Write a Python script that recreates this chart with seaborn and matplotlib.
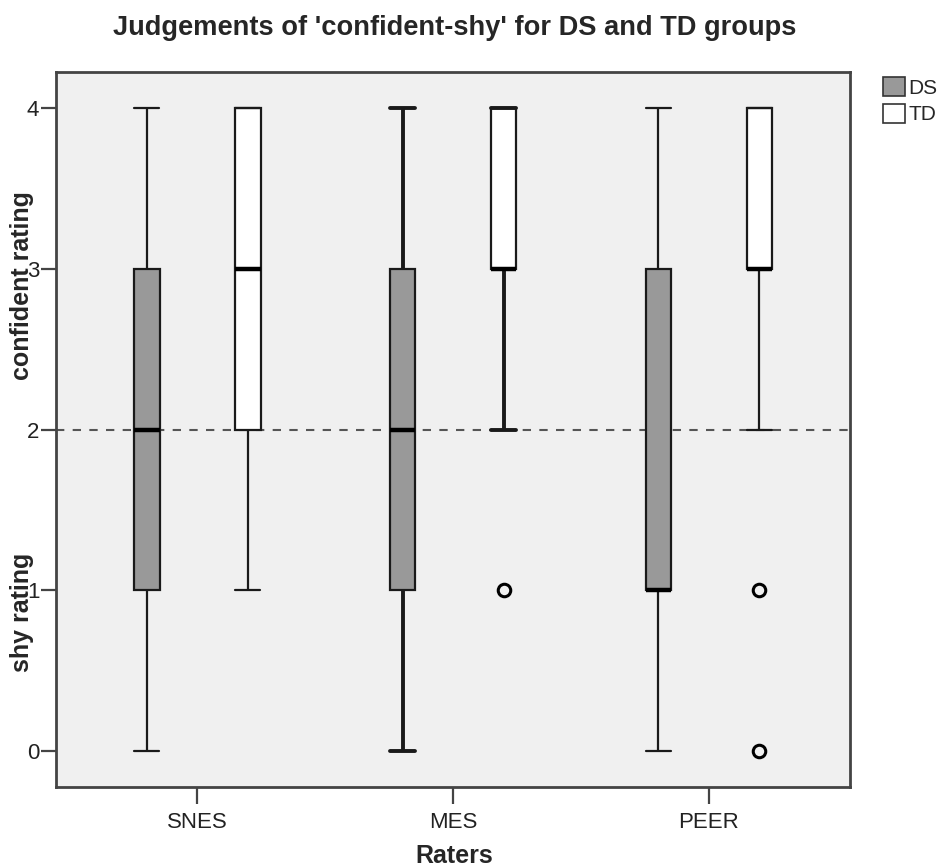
import numpy as np
import pandas as pd
import matplotlib
matplotlib.use("Agg")
import matplotlib.pyplot as plt
import seaborn as sns

# Ratings on the 0 (shy) .. 4 (confident) scale, per rater and group
raters = ["SNES", "MES", "PEER"]
groups = ["DS", "TD"]

snes_ds = [0, 1, 1, 2, 2, 3, 3, 4]
snes_td = [1, 2, 2, 3, 3, 4, 4, 4]
mes_ds = [0, 1, 1, 2, 2, 3, 3, 4]
mes_td = [1, 2, 3, 3, 3, 3, 3, 4, 4, 4, 4]
peer_ds = [0, 1, 1, 1, 1, 3, 3, 4]
peer_td = [0, 1, 2, 3, 3, 3, 3, 3, 3, 4, 4, 4, 4]

y_ticks = [0, 1, 2, 3, 4]
midpoint = 2

samples = {
    ("SNES", "DS"): snes_ds, ("SNES", "TD"): snes_td,
    ("MES", "DS"): mes_ds, ("MES", "TD"): mes_td,
    ("PEER", "DS"): peer_ds, ("PEER", "TD"): peer_td,
}
rows = [(r, g, v) for (r, g), vals in samples.items() for v in vals]
df = pd.DataFrame(rows, columns=["rater", "group", "rating"])

sns.set_style("white")
plt.rcParams["font.family"] = ["Liberation Sans", "DejaVu Sans"]

fig = plt.figure(figsize=(9.4, 8.68), dpi=100)
ax = fig.add_axes([0.0596, 0.0933, 0.8447, 0.8237])
ax.set_facecolor("#f0f0f0")

sns.boxplot(
    data=df, x="rater", y="rating", hue="group",
    order=raters, hue_order=groups,
    palette={"DS": "#999999", "TD": "white"},
    width=0.79, gap=0.75, whis=1.5,
    linecolor="#1a1a1a", linewidth=1.6,
    capwidths=0.098,
    medianprops=dict(color="black", linewidth=3.2),
    flierprops=dict(marker="o", markerfacecolor="none",
                    markeredgecolor="black", markeredgewidth=2.2,
                    markersize=9),
    ax=ax,
)

# heavier whiskers and caps for the MES group
for ln in ax.lines:
    xd = np.asarray(ln.get_xdata(), dtype=float)
    if xd.size and abs(xd.mean() - 1) < 0.4 and ln.get_marker() in ("None", None, ""):
        if ln.get_linewidth() < 3:
            ln.set_linewidth(2.8)

ax.axhline(midpoint, color="#555555", linestyle=(0, (4, 4)), linewidth=1.5, zorder=1.5)

ax.set_xlim(-0.553, 2.553)
ax.set_ylim(-0.224, 4.224)
ax.set_yticks(y_ticks)
ax.set_yticklabels([str(t) for t in y_ticks])

for s in ax.spines.values():
    s.set_visible(True)
    s.set_color("#444444")
    s.set_linewidth(2)

ax.tick_params(axis="both", direction="out", length=11, width=1.6,
               color="#444444", labelsize=16, labelcolor="#222222",
               bottom=True, left=True, pad=1)
ax.tick_params(axis="x", length=12, pad=6)

ax.set_xlabel("")
ax.set_ylabel("")
fig.text(0.4835, 5 / 868, "Raters", fontsize=18, fontweight="bold",
         ha="center", va="baseline")
fig.text(0.023, 0.6705, "confident rating", rotation=90, fontsize=18,
         fontweight="bold", ha="center", va="center")
fig.text(0.023, 0.295, "shy rating", rotation=90, fontsize=18,
         fontweight="bold", ha="center", va="center")

fig.text(0.4835, 1 - 35 / 868, "Judgements of 'confident-shy' for DS and TD groups",
         fontsize=19.6, fontweight="bold", ha="center", va="baseline")

sns.move_legend(ax, "upper left", bbox_to_anchor=(1.0416, 0.993), frameon=False,
                title=None, prop={"size": 15}, handlelength=1.05, handleheight=1.05,
                handletextpad=0.15, labelspacing=0.28, borderaxespad=0.0,
                borderpad=0.0)
for h in ax.get_legend().legend_handles:
    h.set_edgecolor("#333333")
    h.set_linewidth(1.2)

fig.savefig("out.png", dpi=100)
